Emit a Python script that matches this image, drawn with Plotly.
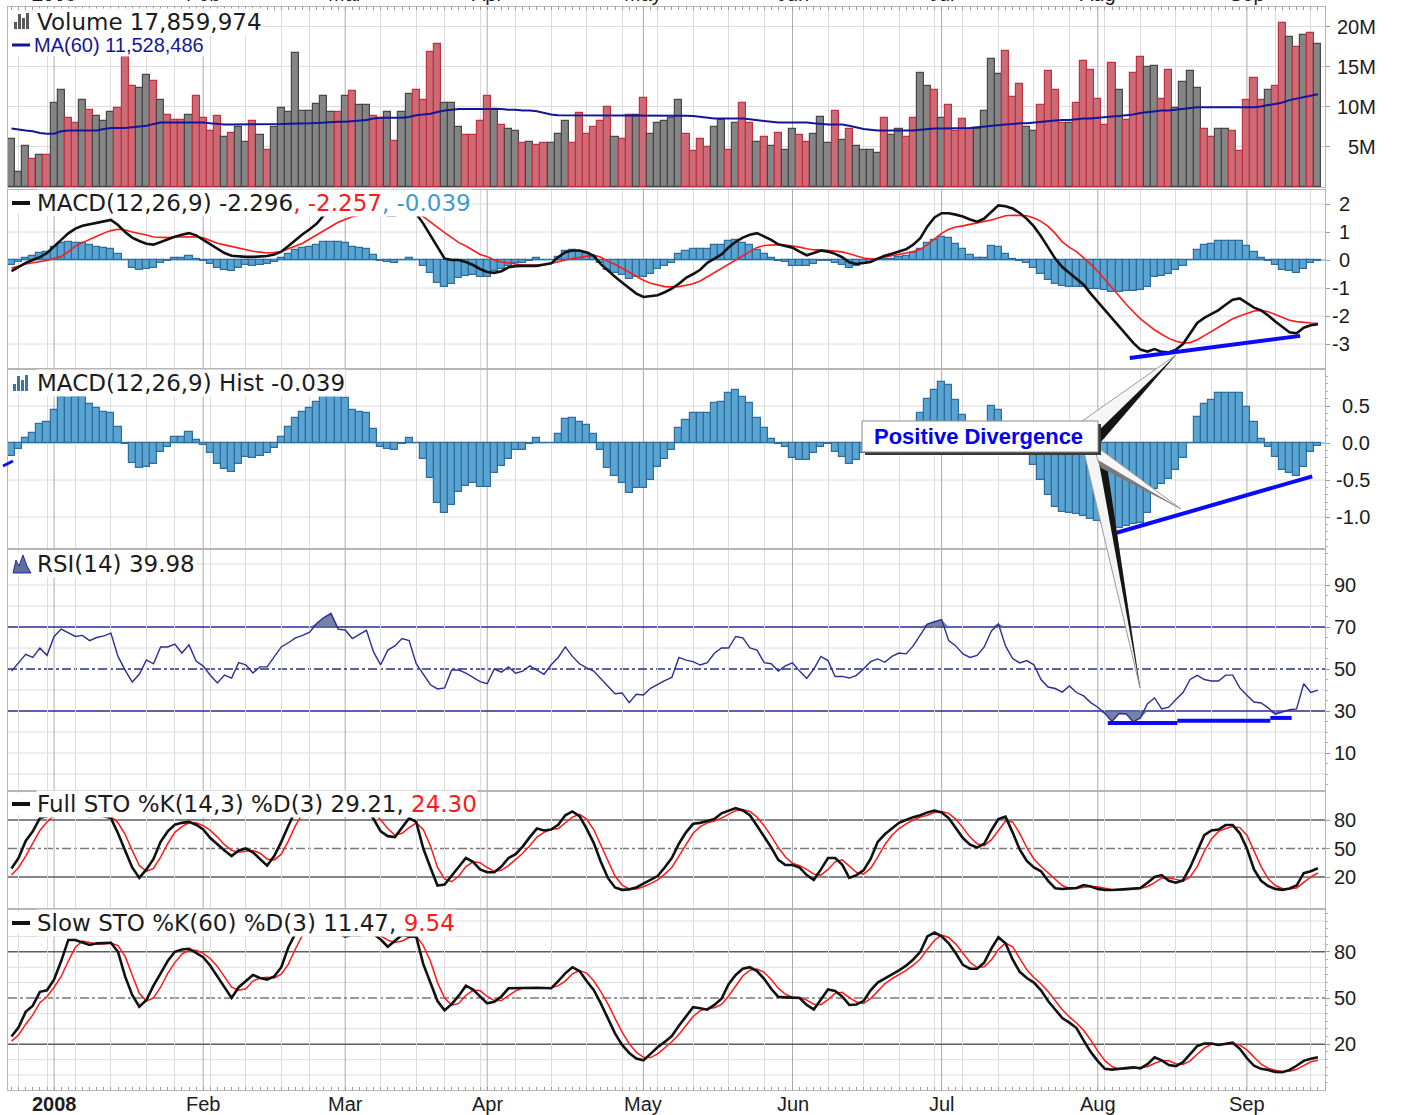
import plotly.graph_objects as go
import pandas as pd

# ------------------------------------------------------------------ data
START_DATE = "2007-12-21"
HOLIDAYS = ["2007-12-25", "2008-01-01", "2008-01-21", "2008-02-18", "2008-03-21",
            "2008-05-26", "2008-07-04", "2008-09-01"]
MONTH_LABELS = ["2008", "Feb", "Mar", "Apr", "May", "Jun", "Jul", "Aug", "Sep"]

VOLUME_M = [
    6.0, 1.8, 5.1, 3.4, 3.9, 3.9, 10.5, 12.1, 8.6, 8.0,
    10.8, 9.6, 8.8, 8.25, 9.3, 9.8, 16.25, 12.6, 12.3, 13.9,
    13.2, 10.8, 9.0, 8.3, 8.3, 9.0, 11.3, 8.6, 7.0, 8.8,
    6.2, 6.7, 7.5, 5.6, 8.25, 6.5, 4.6, 7.5, 9.8, 9.3,
    16.7, 9.5, 9.5, 10.3, 11.3, 9.3, 9.3, 11.3, 11.9, 10.25,
    10.25, 8.8, 8.6, 9.3, 5.7, 9.3, 11.6, 12.1, 10.8, 16.8,
    17.8, 10.5, 10.5, 7.5, 6.5, 6.5, 8.25, 11.3, 9.75, 7.75,
    7.25, 6.9, 5.4, 5.6, 5.2, 5.4, 5.4, 6.6, 8.25, 5.4,
    9.2, 6.6, 7.4, 8.25, 10.0, 6.2, 5.9, 9.0, 9.0, 11.1,
    6.6, 8.0, 8.25, 8.6, 10.8, 6.6, 4.4, 5.9, 4.9, 7.4,
    8.3, 4.6, 8.0, 10.5, 8.0, 5.6, 6.2, 5.1, 6.7, 4.6,
    7.25, 6.5, 5.6, 6.6, 8.75, 5.4, 9.5, 5.8, 7.25, 5.1,
    4.6, 4.6, 4.25, 8.6, 6.5, 7.25, 6.2, 8.6, 14.2, 12.6,
    12.1, 8.6, 10.25, 7.0, 8.5, 7.25, 7.25, 9.5, 16.0, 14.1,
    17.0, 11.25, 12.8, 7.4, 6.9, 10.25, 14.4, 12.1, 7.9, 8.0,
    10.5, 15.7, 14.6, 11.0, 7.75, 15.4, 12.1, 8.3, 14.2, 16.2,
    14.9, 15.1, 11.0, 14.6, 9.8, 13.1, 14.4, 12.3, 7.25, 6.25,
    7.25, 7.25, 6.9, 4.4, 10.8, 13.6, 10.8, 12.1, 12.6, 20.5,
    18.75, 17.5, 19.0, 19.25, 17.86]

# g = grey (up day) bar, r = red (down day) bar
VOLUME_DIR = list(
    "gggrgrggrr" "grgggrrrgg" "rgrrrgrrrr" "grggrgrggg" "ggggggrgrg"
    "grrgrggrrr" "rgggrrrrgr" "ggrgrrgggr" "rrrrrgrrgr" "gggggrrrrg"
    "grgrrgrgrg" "grrgggrgrg" "gggrggrrgg" "rgrrrrgggg" "rrrggrrrrg"
    "rrrrrrgrrr" "ggrrggggrr" "ggrrrrrgrr" "grgrg")

MA60_M = [
    7.25, 7.1, 7.0, 6.9, 6.7, 6.6, 6.6, 6.9, 7.0, 7.0,
    7.0, 7.0, 7.0, 7.2, 7.3, 7.3, 7.3, 7.4, 7.5, 7.6,
    7.8, 8.0, 8.0, 8.0, 8.0, 8.0, 8.0, 8.0, 7.9, 7.8,
    7.75, 7.75, 7.75, 7.75, 7.75, 7.75, 7.8, 7.8, 7.8, 7.85,
    7.85, 7.9, 7.9, 7.95, 8.0, 8.1, 8.1, 8.1, 8.15, 8.2,
    8.3, 8.5, 8.6, 8.6, 8.6, 8.6, 8.7, 8.9, 9.0, 9.1,
    9.3, 9.5, 9.6, 9.7, 9.7, 9.7, 9.7, 9.7, 9.7, 9.7,
    9.6, 9.6, 9.5, 9.5, 9.4, 9.2, 9.0, 8.9, 8.9, 8.9,
    8.9, 8.9, 8.9, 8.9, 8.9, 8.9, 8.9, 8.9, 8.9, 8.9,
    8.9, 8.85, 8.85, 8.85, 8.85, 8.85, 8.8, 8.7, 8.6, 8.5,
    8.5, 8.5, 8.5, 8.5, 8.4, 8.3, 8.2, 8.1, 8.0, 8.0,
    8.0, 8.0, 8.0, 7.9, 7.8, 7.75, 7.75, 7.75, 7.6, 7.4,
    7.2, 7.1, 7.0, 7.0, 7.0, 7.0, 7.0, 7.0, 7.1, 7.2,
    7.25, 7.25, 7.25, 7.25, 7.25, 7.3, 7.4, 7.5, 7.6, 7.7,
    7.75, 7.8, 7.9, 7.9, 8.0, 8.1, 8.2, 8.25, 8.3, 8.3,
    8.4, 8.5, 8.5, 8.6, 8.7, 8.75, 8.8, 8.9, 9.0, 9.2,
    9.3, 9.4, 9.5, 9.5, 9.6, 9.75, 9.8, 9.9, 9.9, 9.9,
    9.9, 9.9, 9.9, 9.9, 9.9, 9.9, 10.0, 10.2, 10.3, 10.5,
    10.8, 11.0, 11.2, 11.4, 11.53]

MACD = [
    -0.4, -0.25, -0.1, 0.0, 0.1, 0.25, 0.5, 0.72, 0.95, 1.12,
    1.22, 1.28, 1.32, 1.38, 1.43, 1.25, 1.0, 0.8, 0.68, 0.58,
    0.55, 0.65, 0.75, 0.83, 0.9, 0.96, 0.88, 0.72, 0.55, 0.4,
    0.25, 0.15, 0.12, 0.11, 0.11, 0.12, 0.14, 0.2, 0.3, 0.5,
    0.72, 0.92, 1.1, 1.3, 1.6, 1.85, 2.0, 2.05, 2.0, 1.95,
    2.0, 1.95, 1.8, 1.6, 1.6, 1.65, 1.75, 1.65, 1.3, 0.9,
    0.45, 0.05, 0.0, 0.0, -0.07, -0.18, -0.32, -0.43, -0.46, -0.4,
    -0.26, -0.22, -0.21, -0.21, -0.21, -0.16, -0.12, 0.1, 0.28, 0.34,
    0.34, 0.27, 0.15, -0.15, -0.38, -0.6, -0.8, -1.0, -1.2, -1.32,
    -1.3, -1.26, -1.15, -1.02, -0.85, -0.64, -0.5, -0.35, -0.1, 0.05,
    0.2, 0.45, 0.65, 0.8, 0.9, 0.96, 0.85, 0.72, 0.56, 0.5,
    0.44, 0.3, 0.17, 0.25, 0.34, 0.3, 0.22, 0.1, -0.08, -0.14,
    -0.1, -0.07, 0.05, 0.15, 0.22, 0.3, 0.38, 0.55, 0.78, 1.2,
    1.52, 1.67, 1.67, 1.62, 1.55, 1.45, 1.37, 1.48, 1.72, 1.95,
    1.92, 1.84, 1.68, 1.47, 1.2, 0.85, 0.45, 0.05, -0.25, -0.45,
    -0.65, -0.88, -1.2, -1.5, -1.8, -2.1, -2.4, -2.7, -2.96, -3.2,
    -3.27, -3.18, -3.28, -3.3, -3.2, -3.0, -2.6, -2.25, -2.07, -1.92,
    -1.79, -1.6, -1.42, -1.37, -1.54, -1.7, -1.8, -1.98, -2.2, -2.4,
    -2.58, -2.62, -2.42, -2.33, -2.296]

SIGNAL = [
    -0.29, -0.22, -0.14, -0.1, -0.05, -0.02, 0.06, 0.12, 0.3, 0.5,
    0.62, 0.75, 0.85, 0.96, 1.05, 1.1, 1.07, 1.0, 0.95, 0.89,
    0.82, 0.8, 0.8, 0.82, 0.82, 0.82, 0.83, 0.79, 0.7, 0.6,
    0.54, 0.48, 0.42, 0.36, 0.31, 0.28, 0.25, 0.27, 0.3, 0.4,
    0.5, 0.6, 0.75, 0.9, 1.05, 1.2, 1.35, 1.45, 1.55, 1.6,
    1.65, 1.7, 1.72, 1.72, 1.7, 1.68, 1.67, 1.65, 1.55, 1.35,
    1.15, 0.98, 0.8, 0.62, 0.5, 0.35, 0.2, 0.12, 0.0, -0.07,
    -0.1, -0.15, -0.18, -0.18, -0.18, -0.18, -0.12, -0.05, 0.0, 0.05,
    0.1, 0.15, 0.18, 0.1, -0.05, -0.15, -0.3, -0.45, -0.6, -0.72,
    -0.83, -0.9, -0.95, -0.96, -0.95, -0.9, -0.85, -0.75, -0.6, -0.45,
    -0.3, -0.15, 0.0, 0.15, 0.3, 0.45, 0.52, 0.54, 0.55, 0.53,
    0.5, 0.46, 0.4, 0.36, 0.36, 0.34, 0.32, 0.29, 0.22, 0.15,
    0.07, 0.04, 0.05, 0.11, 0.15, 0.2, 0.25, 0.3, 0.38, 0.55,
    0.75, 0.95, 1.1, 1.18, 1.22, 1.28, 1.32, 1.38, 1.43, 1.5,
    1.58, 1.6, 1.6, 1.58, 1.5, 1.38, 1.2, 0.95, 0.65, 0.45,
    0.3, 0.08, -0.15, -0.4, -0.7, -1.0, -1.3, -1.58, -1.85, -2.1,
    -2.3, -2.5, -2.65, -2.8, -2.9, -2.96, -2.95, -2.85, -2.7, -2.55,
    -2.4, -2.25, -2.1, -2.0, -1.9, -1.82, -1.8, -1.85, -1.95, -2.05,
    -2.15, -2.2, -2.23, -2.25, -2.257]

HIST = [
    -0.18, -0.08, 0.07, 0.14, 0.26, 0.28, 0.45, 0.62, 0.64, 0.62,
    0.62, 0.53, 0.47, 0.42, 0.4, 0.22, -0.01, -0.27, -0.34, -0.32,
    -0.28, -0.12, -0.05, 0.08, 0.08, 0.15, 0.04, -0.03, -0.14, -0.29,
    -0.35, -0.39, -0.29, -0.19, -0.2, -0.18, -0.14, -0.07, 0.08, 0.22,
    0.34, 0.42, 0.47, 0.55, 0.64, 0.65, 0.65, 0.61, 0.45, 0.42,
    0.4, 0.19, -0.05, -0.08, -0.1, -0.01, 0.07, 0.0, -0.22, -0.47,
    -0.81, -0.95, -0.84, -0.66, -0.58, -0.54, -0.59, -0.59, -0.41, -0.31,
    -0.21, -0.09, -0.09, -0.02, 0.07, 0.0, 0.0, 0.12, 0.32, 0.34,
    0.28, 0.24, 0.12, -0.09, -0.34, -0.45, -0.54, -0.67, -0.61, -0.61,
    -0.5, -0.32, -0.21, -0.09, 0.2, 0.31, 0.4, 0.4, 0.41, 0.54,
    0.55, 0.68, 0.71, 0.62, 0.54, 0.34, 0.2, 0.06, -0.02, -0.06,
    -0.2, -0.23, -0.23, -0.14, -0.05, -0.02, -0.12, -0.19, -0.28, -0.23,
    -0.13, -0.06, 0.0, 0.03, 0.05, 0.1, 0.15, 0.25, 0.4, 0.6,
    0.72, 0.83, 0.78, 0.58, 0.38, 0.18, 0.08, 0.08, 0.5, 0.45,
    0.22, 0.05, -0.02, -0.12, -0.3, -0.5, -0.7, -0.86, -0.93, -0.95,
    -0.96, -0.98, -1.03, -1.05, -1.08, -1.13, -1.15, -1.12, -1.1, -1.08,
    -0.95, -0.62, -0.56, -0.49, -0.36, -0.2, 0.0, 0.35, 0.53, 0.58,
    0.68, 0.68, 0.68, 0.68, 0.49, 0.28, 0.06, -0.05, -0.19, -0.37,
    -0.41, -0.45, -0.32, -0.12, -0.039]

RSI = [
    49, 53, 57, 55.5, 60, 56.5, 65.5, 69, 67.3, 65.5,
    66, 63.5, 65, 65.8, 67.1, 56, 49.5, 43.8, 47.5, 54.3,
    52.5, 60.5, 60.5, 61.9, 57.6, 61.5, 53.8, 51.4, 47, 43.3,
    47.1, 45.7, 53, 52, 48.1, 51, 51, 56, 60.5, 62.5,
    64.8, 66, 67.5, 71.8, 74.5, 76.5, 69, 68.6, 64.5, 66.5,
    68.4, 58, 52, 59, 61, 64.5, 63.5, 52.5, 47.5, 42.5,
    40.5, 41, 49.5, 49.5, 48, 46.2, 44, 43, 50, 48.5,
    51, 48, 49, 51.5, 49.5, 47.5, 52, 55.5, 60.5, 56,
    52.5, 50.5, 49, 45.5, 42, 38.2, 38.6, 34, 38, 37.6,
    40.8, 42.8, 44.5, 46, 55.5, 54.2, 53.5, 51.9, 53, 57.5,
    60, 60, 65.5, 64.8, 60, 59, 53, 52.5, 49, 51.5,
    52.9, 49, 45.5, 50, 56, 54, 46.4, 46.5, 45.7, 47,
    50, 53.5, 54.8, 53.2, 56, 57.6, 57.2, 61, 66, 71.4,
    72.5, 73.5, 63.5, 61, 57.2, 55.5, 56.5, 60.5, 68, 71.5,
    61, 55, 52.9, 54, 52, 45, 41.4, 40.7, 39, 41.9,
    38.8, 37.2, 34, 31.8, 28.8, 25, 28.8, 28.6, 24.8, 26.7,
    33.5, 36.2, 31, 31.8, 35.5, 38.8, 45, 47, 45, 44.3,
    44.3, 47.1, 47.1, 41, 37.5, 34.3, 33.8, 31.5, 28.5, 29.5,
    30.6, 31, 43, 38.8, 39.98]

FSTO_K = [
    29, 40, 58, 68, 82, 84, 90, 95, 96, 92,
    86, 84, 85, 84, 82, 66, 48, 30, 19, 28,
    39, 57, 68, 75, 77, 78, 75, 70, 61, 54,
    48, 42, 48, 50, 46, 39, 32, 42, 57, 74,
    90, 97, 99, 100, 99, 97, 90, 84, 87, 93,
    92, 81, 68, 63, 62, 72, 82, 78, 50, 30,
    11, 12, 21, 31, 40, 36, 28, 25, 25, 31,
    40, 44, 52, 62, 71, 69, 70, 75, 85, 89,
    84, 71, 56, 36, 19, 9, 6.5, 7, 9, 13,
    17, 21, 30, 40, 55, 67, 76, 77, 79, 81,
    87, 90, 92.6, 90, 85, 74, 63, 51, 38, 32.6,
    32.6, 30, 22, 17, 28, 40, 40, 33, 19, 22,
    27, 39, 57, 65, 71, 77, 80, 83, 85, 88,
    90, 88, 82, 72, 61, 54, 51, 55, 69, 81,
    83.5, 67, 49, 37, 30, 26, 16, 8.2, 7.4, 8,
    8.5, 11.5, 10, 7.5, 6.3, 6.3, 6.5, 7.2, 7.8, 8.4,
    14, 20, 22, 16, 14, 16.5, 30, 48, 64, 69,
    70, 74.7, 74.7, 66, 50, 28, 16, 10.5, 7.5, 6.5,
    8, 11, 24, 26, 29.21]

FSTO_D = [
    22, 30, 42, 55, 69, 78, 85, 90, 94, 94,
    91, 87, 85, 84, 84, 77, 65, 48, 32, 26,
    29, 41, 55, 67, 73, 77, 77, 74, 69, 62,
    54, 48, 46, 47, 48, 45, 39, 38, 44, 58,
    74, 87, 95, 99, 99, 99, 95, 90, 87, 88,
    91, 89, 80, 71, 64, 66, 72, 77, 70, 53,
    30, 18, 15, 21, 31, 36, 35, 30, 26, 27,
    32, 38, 45, 53, 62, 67, 70, 71, 77, 83,
    86, 81, 70, 54, 37, 21, 11.5, 7.5, 7.5, 9.7,
    13, 17, 23, 30, 42, 54, 66, 73, 77, 79,
    82, 86, 90, 91, 89, 83, 74, 63, 51, 41,
    34.5, 32, 28, 23, 22, 28, 36, 38, 31, 25,
    23, 29, 41, 54, 64, 71, 76, 80, 83, 85,
    88, 89, 87, 81, 72, 62, 55, 53, 59, 69,
    79, 78, 66, 51, 39, 31, 24, 17, 11, 8,
    8, 9.3, 10, 9.7, 8, 6.7, 6.4, 6.7, 7.2, 7.8,
    10, 14, 19, 19, 17.5, 15.5, 20, 31, 47, 60,
    68, 71, 73, 72, 64, 48, 31, 18, 11, 8,
    7.3, 8.5, 14, 20, 24.3]

SSTO_K = [
    25, 31, 41, 45, 54, 55, 62, 74, 87.7, 87.7,
    86, 84.4, 85.5, 85.7, 85.9, 80, 64, 52, 44.4, 48.7,
    58, 66, 74, 80, 81.5, 82, 79, 76.5, 71, 64,
    57, 50, 57, 61, 65, 63, 62, 64, 70, 83,
    92, 97, 98, 98, 97, 95, 92, 89.8, 91, 91,
    91.6, 91.6, 88, 83.3, 87, 90.9, 90, 89.8, 72, 60,
    48, 42, 46, 51.5, 58, 55.5, 51, 46.5, 47.5, 51,
    56.3, 56.5, 56.5, 56.6, 56.7, 56.5, 56.3, 61, 66, 70,
    67.5, 61, 55.2, 46.5, 37, 27, 19.5, 14.3, 10.7, 9.5,
    13.7, 18, 21.5, 25.3, 32, 38, 44, 43.3, 42.4, 45.5,
    49.5, 59, 65, 69, 70, 67.5, 62.5, 56, 50.7, 50.4,
    50.4, 50, 45.5, 42.6, 49, 55.5, 54.5, 51, 45.5, 45.8,
    48, 55, 60, 62.5, 65, 68, 71, 75, 80, 90,
    92.5, 90, 85.5, 79, 71.5, 69, 69, 73, 82, 89.5,
    85.5, 75, 67, 63, 60, 55, 48, 42.2, 37, 34,
    30.5, 22.5, 15, 9, 4, 3.5, 3.8, 4.5, 5, 4.3,
    7, 11.5, 9.5, 6.5, 5.8, 8.3, 13.5, 18.8, 20.5, 20.5,
    19.5, 20.3, 21, 17, 11, 6, 4, 3.2, 2, 1.8,
    3.3, 6, 9.2, 10.5, 11.47]

SSTO_D = [
    22, 26, 33, 39, 47, 51, 57, 64, 74, 83,
    87, 86, 85, 85, 85.7, 84, 77, 65, 53, 48,
    50, 57, 66, 73, 78.5, 81, 81, 79, 75.5, 70.5,
    64, 57, 55, 56, 61, 63, 63.5, 63, 65.5, 72,
    82, 91, 96, 98, 98, 97, 95, 92, 91, 90.5,
    91, 91.4, 90.4, 87.6, 86, 87, 89.3, 90.2, 84, 74,
    60, 50, 45.3, 46.5, 51.8, 55, 54.8, 51, 48.3, 48.3,
    51.6, 54.6, 56.4, 56.5, 56.6, 56.6, 56.5, 58, 61, 65.7,
    67.8, 66.2, 61.2, 54.2, 46.2, 36.8, 27.8, 20.3, 14.8, 11.5,
    11.3, 13.7, 17.7, 21.6, 26.3, 31.8, 38, 41.8, 43.2, 43.7,
    45.8, 51.3, 57.8, 64.3, 68, 68.8, 66.7, 62, 56.4, 52.4,
    50.5, 50.3, 48.6, 46, 45.7, 49, 53, 53.7, 50.3, 47.4,
    46.4, 49.6, 54.3, 59.2, 62.5, 65.2, 68, 71.3, 75.3, 81.7,
    87.5, 90.8, 89.3, 85, 78.7, 73.2, 69.8, 70.3, 74.7, 81.5,
    85.7, 83.3, 75.8, 68.3, 63.3, 59.3, 54.3, 48.4, 42.4, 37.7,
    33.8, 29, 22.7, 15.5, 9.3, 5.5, 3.8, 3.9, 4.4, 4.6,
    5.4, 7.6, 9.3, 9.2, 7.3, 6.9, 9.2, 13.5, 17.6, 19.9,
    20.2, 20.1, 20.3, 19.4, 16.3, 11.3, 7, 4.4, 3.1, 2.3,
    2.4, 3.7, 6.2, 8.6, 9.54]

# hand-drawn divergence trend lines (bar index, value)
DIV_MACD = ([157.5, 181.5], [-3.5, -2.71])
DIV_HIST = ([155.4, 183.2], [-1.22, -0.45])
DIV_RSI = [([154.4, 164.2], [24.3, 24.3]),
           ([164.2, 177.3], [25.4, 25.4]),
           ([177.3, 180.3], [26.7, 26.7])]

N = len(VOLUME_M)
for name, arr in [("dir", VOLUME_DIR), ("ma", MA60_M), ("macd", MACD), ("sig", SIGNAL),
                  ("hist", HIST), ("rsi", RSI), ("fk", FSTO_K), ("fd", FSTO_D),
                  ("sk", SSTO_K), ("sd", SSTO_D)]:
    assert len(arr) == N, (name, len(arr))

# ------------------------------------------------------------------ dates / ticks
days = pd.bdate_range(START_DATE, periods=N + 20)
days = [d for d in days if d.strftime("%Y-%m-%d") not in HOLIDAYS][:N]
X = list(range(N))
MONTH_IDX = [i for i in range(1, N) if days[i].month != days[i - 1].month]
WEEK_IDX = [i for i in range(1, N) if days[i].weekday() < days[i - 1].weekday()
            and i not in MONTH_IDX]

# ------------------------------------------------------------------ geometry
W, H = 1403, 1115
L, R, T, B = 8, 1325, 7, 1090


def px(x):
    return (x - L) / (R - L)


def py(y):
    return 1 - (y - T) / (B - T)


PANELS = [(7, 187), (190, 368), (370, 548), (550, 790), (792, 908), (910, 1090)]
CAL = [(186.5, 8.0), (260, 28.0), (443, 74.0), (774, 2.1), (896, 0.95), (1075, 1.54)]
XR = [(L - 11.5) / 7.1, (R - 11.5) / 7.1]

GRID = "#dcdcdc"
MONTHC = "#ababab"
BORDER = "#b5b5b5"
FONT = "DejaVu Sans"
AFONT = "Liberation Sans"

fig = go.Figure()

# ------------------------------------------------------------------ traces
up_fill, dn_fill = "#858585", "#cc6a76"
up_line, dn_line = "#474747", "#c3313f"
fig.add_trace(go.Bar(x=X, y=VOLUME_M, width=1.0,
                     marker=dict(color=[up_fill if d == "g" else dn_fill for d in VOLUME_DIR],
                                 line=dict(color=[up_line if d == "g" else dn_line for d in VOLUME_DIR],
                                           width=1.2)),
                     xaxis="x", yaxis="y", showlegend=False))
fig.add_trace(go.Scatter(x=X, y=MA60_M, mode="lines", line=dict(color="#14149a", width=2),
                         xaxis="x", yaxis="y", showlegend=False))

hist_fill, hist_line = "#5aa4d2", "#2f6d9e"
fig.add_trace(go.Bar(x=X, y=HIST, width=1.0,
                     marker=dict(color=hist_fill, line=dict(color=hist_line, width=1.2)),
                     xaxis="x2", yaxis="y2", showlegend=False))
fig.add_trace(go.Scatter(x=X, y=SIGNAL, mode="lines", line=dict(color="#ff1a1a", width=1.6),
                         xaxis="x2", yaxis="y2", showlegend=False))
fig.add_trace(go.Scatter(x=X, y=MACD, mode="lines", line=dict(color="#111111", width=2.6),
                         xaxis="x2", yaxis="y2", showlegend=False))

fig.add_trace(go.Bar(x=X, y=HIST, width=1.0,
                     marker=dict(color=hist_fill, line=dict(color=hist_line, width=1.2)),
                     xaxis="x3", yaxis="y3", showlegend=False))

# RSI overbought / oversold fills
rsi_fill = "rgba(90,108,150,0.85)"
fig.add_trace(go.Scatter(x=X, y=[30] * N, mode="lines", line=dict(width=0),
                         xaxis="x4", yaxis="y4", showlegend=False, hoverinfo="skip"))
fig.add_trace(go.Scatter(x=X, y=[min(v, 30) for v in RSI], mode="lines", line=dict(width=0),
                         fill="tonexty", fillcolor=rsi_fill,
                         xaxis="x4", yaxis="y4", showlegend=False, hoverinfo="skip"))
fig.add_trace(go.Scatter(x=X, y=[70] * N, mode="lines", line=dict(width=0),
                         xaxis="x4", yaxis="y4", showlegend=False, hoverinfo="skip"))
fig.add_trace(go.Scatter(x=X, y=[max(v, 70) for v in RSI], mode="lines", line=dict(width=0),
                         fill="tonexty", fillcolor=rsi_fill,
                         xaxis="x4", yaxis="y4", showlegend=False, hoverinfo="skip"))
fig.add_trace(go.Scatter(x=X, y=RSI, mode="lines", line=dict(color="#2e2e90", width=1.4),
                         xaxis="x4", yaxis="y4", showlegend=False))

fig.add_trace(go.Scatter(x=X, y=FSTO_D, mode="lines", line=dict(color="#ff1a1a", width=1.5),
                         xaxis="x5", yaxis="y5", showlegend=False))
fig.add_trace(go.Scatter(x=X, y=FSTO_K, mode="lines", line=dict(color="#111111", width=2.6),
                         xaxis="x5", yaxis="y5", showlegend=False))
fig.add_trace(go.Scatter(x=X, y=SSTO_D, mode="lines", line=dict(color="#ff1a1a", width=1.5),
                         xaxis="x6", yaxis="y6", showlegend=False))
fig.add_trace(go.Scatter(x=X, y=SSTO_K, mode="lines", line=dict(color="#111111", width=2.6),
                         xaxis="x6", yaxis="y6", showlegend=False))

# ------------------------------------------------------------------ axes
YGRID = [
    [5, 10, 15, 20],
    [2, 1, -1, -2, -3],
    [0.5, -0.5, -1.0],
    [0, 10, 20, 40, 60, 80, 90, 100],
    [],
    [0, 10, 30, 40, 60, 70, 90, 100],
]
YTICK = [
    [5, 10, 15, 20],
    [2, 1, 0, -1, -2, -3],
    [0.5, 0.0, -0.5, -1.0],
    [10, 30, 50, 70, 90],
    [20, 50, 80],
    [20, 50, 80],
]
YMINOR = [None, None, 0.1, 5, None, 5]
layout = dict(width=W, height=H, paper_bgcolor="white", plot_bgcolor="white",
              margin=dict(l=L, r=W - R, t=T, b=H - B), bargap=0, barmode="overlay",
              showlegend=False)
for k in range(6):
    top, bot = PANELS[k]
    zero, ppu = CAL[k]
    sfx = "" if k == 0 else str(k + 1)
    xa = dict(domain=[0, 1], range=XR, anchor="y" + sfx, showgrid=True, gridcolor=GRID,
              gridwidth=1, tickmode="array", tickvals=WEEK_IDX, ticks="", showticklabels=False,
              zeroline=False, showline=True, mirror=True, linecolor=BORDER, linewidth=1)
    if k == 0:
        xa["side"] = "top"
    if k in (0, 5):
        xa["minor"] = dict(tickmode="linear", tick0=0, dtick=1, ticks="inside", ticklen=3,
                           tickcolor="#9a9a9a", showgrid=False)
    if k > 0:
        xa["matches"] = "x"
    ya = dict(domain=[py(bot), py(top)], range=[(zero - bot) / ppu, (zero - top) / ppu],
              anchor="x" + sfx, side="right", showgrid=False,
              tickmode="array", tickvals=YTICK[k], ticks="outside", ticklen=4,
              tickcolor="#9a9a9a", showticklabels=False, zeroline=False,
              showline=True, mirror=True, linecolor=BORDER, linewidth=1, fixedrange=True)
    if YMINOR[k]:
        ya["minor"] = dict(dtick=YMINOR[k], ticks="outside", ticklen=2, tickcolor="#b0b0b0",
                           showgrid=False)
    layout["xaxis" + sfx] = xa
    layout["yaxis" + sfx] = ya
fig.update_layout(**layout)

shapes = []
# horizontal grid lines and month separators (under the data)
for k in range(6):
    sfx = "" if k == 0 else str(k + 1)
    for g in YGRID[k]:
        shapes.append(dict(type="line", xref="x" + sfx + " domain", yref="y" + sfx,
                           x0=0, x1=1, y0=g, y1=g, line=dict(color=GRID, width=1),
                           layer="below"))
    for m in MONTH_IDX:
        shapes.append(dict(type="line", xref="x" + sfx, yref="y" + sfx + " domain",
                           x0=m, x1=m, y0=0, y1=1, line=dict(color=MONTHC, width=1),
                           layer="below"))

# zero line of histograms
for sfx in ("2", "3"):
    shapes.append(dict(type="line", xref="x" + sfx + " domain", yref="y" + sfx, x0=0, x1=1,
                       y0=0, y1=0, line=dict(color="#7cc0ea", width=1.5), layer="below"))

# RSI and stochastic reference levels
navy = "#2b2b8e"
for lv, dash in ((70, "solid"), (30, "solid"), (50, "dashdot")):
    shapes.append(dict(type="line", xref="x4 domain", yref="y4", x0=0, x1=1, y0=lv, y1=lv,
                       line=dict(color=navy, width=1.6, dash=dash), layer="below"))
for sfx in ("5", "6"):
    for lv, dash in ((80, "solid"), (20, "solid"), (50, "dashdot")):
        shapes.append(dict(type="line", xref="x" + sfx + " domain", yref="y" + sfx, x0=0, x1=1,
                           y0=lv, y1=lv, line=dict(color="#5e5e5e" if dash == "solid" else "#7a7a7a",
                                                    width=1.4, dash=dash), layer="below"))

# divergence lines
blue = "#0a0aff"
shapes.append(dict(type="line", xref="x2", yref="y2", x0=DIV_MACD[0][0], x1=DIV_MACD[0][1],
                   y0=DIV_MACD[1][0], y1=DIV_MACD[1][1], line=dict(color=blue, width=4)))
shapes.append(dict(type="line", xref="x3", yref="y3", x0=DIV_HIST[0][0], x1=DIV_HIST[0][1],
                   y0=DIV_HIST[1][0], y1=DIV_HIST[1][1], line=dict(color=blue, width=4)))
for xs, ys in DIV_RSI:
    shapes.append(dict(type="line", xref="x4", yref="y4", x0=xs[0], x1=xs[1],
                       y0=ys[0], y1=ys[1], line=dict(color=blue, width=4)))
shapes.append(dict(type="line", xref="paper", yref="paper", x0=px(3), y0=py(466),
                   x1=px(13), y1=py(461), line=dict(color=blue, width=3)))


def poly(pts, fill, line="rgba(0,0,0,0)", lw=0):
    path = "M " + " L ".join(f"{px(a):.5f},{py(b):.5f}" for a, b in pts) + " Z"
    return dict(type="path", xref="paper", yref="paper", path=path, fillcolor=fill,
                line=dict(color=line, width=lw), layer="above")


def rect(x0, y0, x1, y1, fill, line="rgba(0,0,0,0)", lw=0):
    return dict(type="rect", xref="paper", yref="paper", x0=px(x0), x1=px(x1),
                y0=py(y1), y1=py(y0), fillcolor=fill, line=dict(color=line, width=lw),
                layer="above")


# callout pointer arms
shapes.append(poly([(1084, 452), (1104, 452), (1140, 688)], "#f4f4f4", "#9a9a9a", 1))
shapes.append(poly([(1097, 452), (1105, 452), (1140, 688)], "#151515"))
shapes.append(poly([(1093, 444), (1181, 509), (1099, 464)], "#f6f6f6", "#9a9a9a", 1))
shapes.append(poly([(1098, 460), (1181, 509), (1101, 468)], "#7a7a7a"))
shapes.append(poly([(1078, 424), (1176, 355), (1095, 438)], "#f6f6f6", "#9a9a9a", 1))
shapes.append(poly([(1093, 436), (1176, 355), (1101, 442)], "#151515"))
# callout box
shapes.append(rect(865, 424, 1101, 455, "#3a3a3a"))
shapes.append(rect(862, 421, 1098, 452, "white", "#8a8a8a", 1))

# label icons (white backing + glyphs)
for yc in (22, 45, 203, 383, 564, 804, 923):
    shapes.append(rect(9, yc - 11, 36, yc + 11, "white"))
for (x0, h) in ((14, 7), (18, 15), (22, 11), (26, 16)):
    shapes.append(rect(x0, 29 - h, x0 + 3, 29, "#5a5a5a"))
for (x0, h) in ((13, 7), (17, 15), (21, 11), (25, 16)):
    shapes.append(rect(x0, 391 - h, x0 + 3, 391, "#3d74a8"))
shapes.append(poly([(13, 573), (16, 560), (19, 566), (23, 555), (27, 566), (31, 573)],
                   "#5b6ea0", "#2b2b8e", 1))
for yc, col, w in ((45, "#14149a", 3), (203, "#111111", 4), (804, "#111111", 4), (923, "#111111", 4)):
    shapes.append(dict(type="line", xref="paper", yref="paper", x0=px(12), x1=px(30),
                       y0=py(yc), y1=py(yc), line=dict(color=col, width=w), layer="above"))
fig.update_layout(shapes=shapes)

# ------------------------------------------------------------------ text
ann = []


def label(x, y, text, size=23, family=FONT, color="#1c1c1c"):
    ann.append(dict(xref="paper", yref="paper", x=px(x), y=py(y), xanchor="left",
                    yanchor="middle", text=text, showarrow=False, bgcolor="white",
                    borderpad=0, font=dict(family=family, size=size, color=color)))


label(36, 22, "Volume 17,859,974")
label(33, 45, "MA(60) 11,528,486", size=20, family=AFONT, color="#14149a")
label(36, 203, "MACD(12,26,9) -2.296<span style='color:#ff1a1a'>, -2.257</span>"
               "<span style='color:#3d9bd0'>, -0.039</span>")
label(36, 383, "MACD(12,26,9) Hist -0.039")
label(36, 564, "RSI(14) 39.98")
label(36, 804, "Full STO %K(14,3) %D(3) 29.21, <span style='color:#ff1a1a'>24.30</span>")
label(36, 923, "Slow STO %K(60) %D(3) 11.47, <span style='color:#ff1a1a'>9.54</span>")

ann.append(dict(xref="paper", yref="paper", x=px(978), y=py(436), text="<b>Positive Divergence</b>",
                showarrow=False, xanchor="center", yanchor="middle",
                font=dict(family=AFONT, size=22, color="#0000ee")))

# right-hand value labels
RIGHT_LABELS = [
    (1378, [(20, "20M"), (15, "15M"), (10, "10M"), (5, "5M")]),
    (1352, [(2, "2"), (1, "1"), (0, "0"), (-1, "-1"), (-2, "-2"), (-3, "-3")]),
    (1372, [(0.5, "0.5"), (0.0, "0.0"), (-0.5, "-0.5"), (-1.0, "-1.0")]),
    (1358, [(90, "90"), (70, "70"), (50, "50"), (30, "30"), (10, "10")]),
    (1358, [(80, "80"), (50, "50"), (20, "20")]),
    (1358, [(80, "80"), (50, "50"), (20, "20")]),
]
for k, (xr, items) in enumerate(RIGHT_LABELS):
    sfx = "" if k == 0 else str(k + 1)
    for v, t in items:
        ann.append(dict(xref="paper", yref="y" + sfx, x=px(xr), y=v, text=t, showarrow=False,
                        xanchor="right", yanchor="middle",
                        font=dict(family=AFONT, size=20, color="#1c1c1c")))

# month labels along the bottom, and the clipped ones at the very top
for m, name in zip(MONTH_IDX, MONTH_LABELS):
    t = "<b>%s</b>" % name if name == "2008" else name
    ann.append(dict(xref="x6", yref="paper", x=m, y=py(1104), text=t, showarrow=False,
                    xanchor="center", yanchor="middle",
                    font=dict(family=AFONT, size=20, color="#1c1c1c")))
    ann.append(dict(xref="x", yref="paper", x=m, y=py(-6), text=t, showarrow=False,
                    xanchor="center", yanchor="middle",
                    font=dict(family=AFONT, size=20, color="#1c1c1c")))
fig.update_layout(annotations=ann)

fig.write_html("out.html", config={"displayModeBar": False},
               post_script="document.body.style.margin='0px';")
